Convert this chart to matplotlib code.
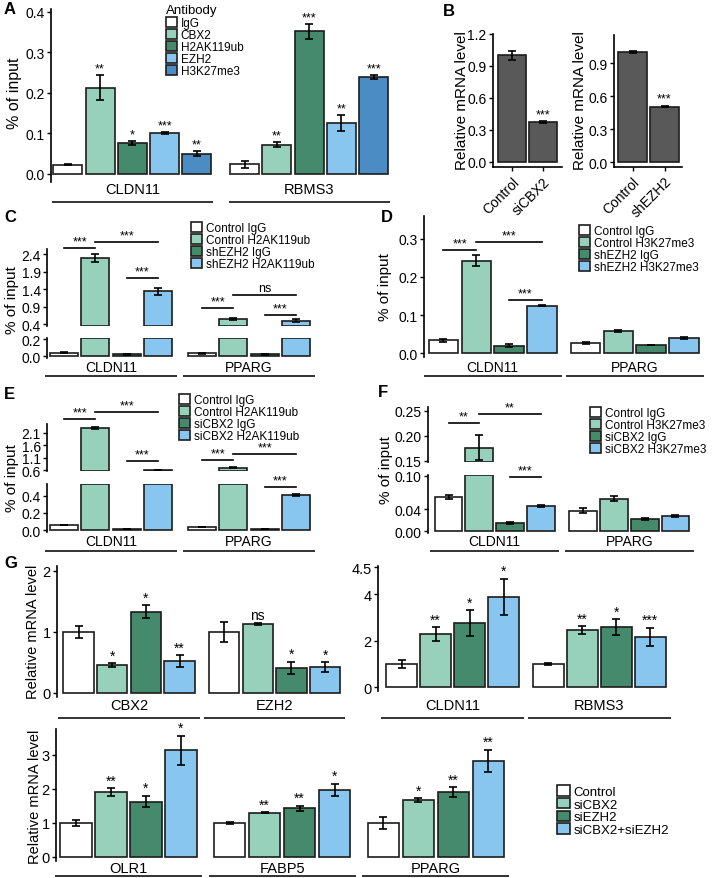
import numpy as np
import matplotlib.pyplot as plt
from matplotlib.patches import Patch
from matplotlib.transforms import blended_transform_factory

plt.rcParams['font.family'] = ['Liberation Sans', 'DejaVu Sans']
NARROW = ['Liberation Sans Narrow', 'Liberation Sans', 'DejaVu Sans']

W, H = 724, 879

WHITE = '#ffffff'
LGREEN = '#97d1bb'
DGREEN = '#468a6e'
LBLUE = '#88c5ef'
MBLUE = '#4b8cc4'
GREY = '#595959'
EDGE = '#1c1c1c'

# ---- panel A: ChIP at CLDN11 / RBMS3 ----
a_genes = ['CLDN11', 'RBMS3']
a_antibodies = ['IgG', 'CBX2', 'H2AK119ub', 'EZH2', 'H3K27me3']
a_vals = [[0.023, 0.213, 0.076, 0.101, 0.050],
          [0.024, 0.072, 0.352, 0.125, 0.239]]
a_errs = [[0.002, 0.031, 0.004, 0.002, 0.006],
          [0.009, 0.006, 0.018, 0.020, 0.004]]
a_sig = [['', '**', '*', '***', '**'],
         ['', '**', '***', '**', '***']]

# ---- panel B: knockdown efficiency ----
b1_groups = ['Control', 'siCBX2']
b1_vals = [1.0, 0.375]
b1_errs = [0.04, 0.01]
b2_groups = ['Control', 'shEZH2']
b2_vals = [1.0, 0.505]
b2_errs = [0.012, 0.008]
b_sig = ['', '***']

# ---- panel C ----
c_genes = ['CLDN11', 'PPARG']
c_labels = ['Control IgG', 'Control H2AK119ub', 'shEZH2 IgG', 'shEZH2 H2AK119ub']
c_vals = [[0.04, 2.28, 0.02, 1.33], [0.03, 0.55, 0.02, 0.50]]
c_errs = [[0.005, 0.12, 0.003, 0.09], [0.003, 0.03, 0.003, 0.03]]
c_brackets = [(0, 0, 1, 2.57, '***'), (0, 1, 3, 2.74, '***'), (0, 2, 3, 1.71, '***'),
              (1, 0, 1, 0.86, '***'), (1, 1, 3, 1.23, 'ns'), (1, 2, 3, 0.66, '***')]

# ---- panel D ----
d_genes = ['CLDN11', 'PPARG']
d_labels = ['Control IgG', 'Control H3K27me3', 'shEZH2 IgG', 'shEZH2 H3K27me3']
d_vals = [[0.033, 0.243, 0.019, 0.125], [0.026, 0.058, 0.021, 0.039]]
d_errs = [[0.005, 0.014, 0.004, 0.002], [0.002, 0.003, 0.001, 0.002]]
d_brackets = [(0, 0, 1, 0.271, '***'), (0, 1, 3, 0.292, '***'), (0, 2, 3, 0.139, '***')]

# ---- panel E ----
e_genes = ['CLDN11', 'PPARG']
e_labels = ['Control IgG', 'Control H2AK119ub', 'siCBX2 IgG', 'siCBX2 H2AK119ub']
e_vals = [[0.06, 2.29, 0.01, 0.61], [0.035, 0.70, 0.015, 0.41]]
e_errs = [[0.003, 0.04, 0.002, 0.01], [0.003, 0.02, 0.002, 0.01]]
e_brackets = [(0, 0, 1, 2.67, '***'), (0, 1, 3, 2.95, '***'), (0, 2, 3, 0.97, '***'),
              (1, 0, 1, 1.01, '***'), (1, 1, 3, 1.25, '***'), (1, 2, 3, 0.51, '***')]

# ---- panel F ----
f_genes = ['CLDN11', 'PPARG']
f_labels = ['Control IgG', 'Control H3K27me3', 'siCBX2 IgG', 'siCBX2 H3K27me3']
f_vals = [[0.062, 0.177, 0.014, 0.046], [0.037, 0.059, 0.022, 0.027]]
f_errs = [[0.003, 0.025, 0.002, 0.002], [0.004, 0.004, 0.002, 0.002]]
f_brackets = [(0, 0, 1, 0.226, '**'), (0, 1, 3, 0.244, '**'), (0, 2, 3, 0.098, '***')]

# ---- panel G ----
g_labels = ['Control', 'siCBX2', 'siEZH2', 'siCBX2+siEZH2']
g1_genes = ['CBX2', 'EZH2']
g1_vals = [[1.0, 0.46, 1.33, 0.52], [1.0, 1.13, 0.41, 0.42]]
g1_errs = [[0.10, 0.03, 0.11, 0.10], [0.17, 0.02, 0.10, 0.08]]
g1_sig = [['', '*', '*', '**'], ['', 'ns', '*', '*']]
g2_genes = ['CLDN11', 'RBMS3']
g2_vals = [[1.0, 2.27, 2.75, 3.87], [1.0, 2.45, 2.58, 2.15]]
g2_err_lo = [[0.18, 0.30, 0.56, 0.77], [0.04, 0.17, 0.34, 0.40]]
g2_err_hi = [[0.18, 0.30, 0.56, 0.41], [0.04, 0.17, 0.34, 0.40]]
g2_sig = [['', '**', '*', '*'], ['', '**', '*', '***']]
g3_genes = ['OLR1', 'FABP5', 'PPARG']
g3_vals = [[1.0, 1.90, 1.63, 3.13], [1.0, 1.30, 1.43, 1.97], [1.0, 1.67, 1.90, 2.83]]
g3_errs = [[0.08, 0.12, 0.17, 0.43], [0.02, 0.02, 0.07, 0.18], [0.18, 0.05, 0.15, 0.32]]
g3_sig = [['', '**', '*', '*'], ['', '**', '**', '*'], ['', '*', '**', '**']]

chip4 = [WHITE, LGREEN, DGREEN, LBLUE]

fig = plt.figure(figsize=(W / 100, H / 100), dpi=100)


def fxy(x, y):
    return x / W, 1 - y / H


def px_axes(x0, y0, x1, y1):
    ax = fig.add_axes([x0 / W, 1 - y1 / H, (x1 - x0) / W, (y1 - y0) / H])
    ax.patch.set_visible(False)
    return ax


def style_axis(ax, yticks, ylabels, size=10, family=None):
    for s in ['top', 'right', 'bottom']:
        ax.spines[s].set_visible(False)
    ax.spines['left'].set_linewidth(1.2)
    ax.set_xticks([])
    ax.set_yticks(yticks)
    ax.set_yticklabels(ylabels, fontsize=size, family=family)
    ax.tick_params(axis='y', length=3, width=1, pad=1.5)


def xpos(g, n, gap):
    return g * (n + gap) + np.arange(n)


def bar_groups(ax, vals, colors, gap, ylim, err_lo, err_hi=None, sig=None,
               sig_size=9, family=None):
    n = len(colors)
    lo, hi = ylim
    if err_hi is None:
        err_hi = err_lo
    for g in range(len(vals)):
        xs = xpos(g, n, gap)
        v = np.asarray(vals[g], float)
        keep = v > lo
        base = max(0, lo)
        ax.bar(xs[keep], np.minimum(v, hi)[keep] - base, bottom=base, width=0.9,
               color=np.array(colors)[keep], edgecolor=EDGE, linewidth=1.2, zorder=2)
        yerr = np.vstack([err_lo[g], err_hi[g]])
        ax.errorbar(xs, v, yerr=yerr, fmt='none', ecolor='black', elinewidth=1.2,
                    capsize=3, capthick=1.2, zorder=3)
        if sig:
            for x, val, eh, s in zip(xs, v, err_hi[g], sig[g]):
                if s and lo < val + eh <= hi * 1.2:
                    ax.annotate(s, (x, val + eh), xytext=(0, 0.5), textcoords='offset points',
                                ha='center', va='bottom', fontsize=sig_size, family=family)
    ax.set_ylim(lo, hi)


def set_xlim_px(ax, x0, x1, c0, step):
    ax.set_xlim((x0 - c0) / step, (x1 - c0) / step)


def gene_labels(ax, genes, n, gap, y_text, y_line, size, pad=0.6, family=None):
    tr = blended_transform_factory(ax.transData, fig.transFigure)
    for g, gene in enumerate(genes):
        xs = xpos(g, n, gap)
        ax.plot([xs[0] - pad, xs[-1] + pad], [1 - y_line / H] * 2, transform=tr,
                color='#222222', lw=1.3, clip_on=False, solid_capstyle='butt')
        ax.text(xs.mean(), 1 - y_text / H, gene, transform=tr, ha='center',
                va='center', fontsize=size, family=family)


def brackets(ax_top, ax_bot, items, n, gap, size=9):
    for g, i, j, y, label in items:
        ax = ax_top
        if ax_bot is not None and y < ax_top.get_ylim()[0]:
            ax = ax_bot
        x1 = g * (n + gap) + i
        x2 = g * (n + gap) + j
        ax.plot([x1, x2], [y, y], color='black', lw=1.2, clip_on=False)
        ax.annotate(label, ((x1 + x2) / 2, y), xytext=(0, 0.5), textcoords='offset points',
                    ha='center', va='bottom', fontsize=size, annotation_clip=False)


def legend_at(x, y, labels, colors, size=8.5, spacing=0.0, keyh=0.85, family=None):
    handles = [Patch(facecolor=c, edgecolor=EDGE, linewidth=1.2) for c in colors]
    prop = {'size': size}
    if family:
        prop['family'] = family
    fig.legend(handles, labels, loc='upper left', bbox_to_anchor=fxy(x, y),
               frameon=False, prop=prop, handlelength=0.95, handleheight=keyh,
               handletextpad=0.3, labelspacing=spacing, borderpad=0, borderaxespad=0)


def panel_letter(x, y, s):
    fig.text(*fxy(x, y), s, fontsize=12, fontweight='bold', ha='left', va='center')


def ylab(x, y, s, size=11, family=None):
    fig.text(*fxy(x, y), s, rotation=90, ha='center', va='center', fontsize=size, family=family)


# ---------------- A ----------------
axA = px_axes(51, 10, 392, 183)
bar_groups(axA, a_vals, [WHITE, LGREEN, DGREEN, LBLUE, MBLUE], 0.485, (-0.02, 0.407),
           a_errs, sig=a_sig)
set_xlim_px(axA, 51, 392, 67.8, 32.25)
style_axis(axA, [0, 0.1, 0.2, 0.3, 0.4], ['0.0', '0.1', '0.2', '0.3', '0.4'])
gene_labels(axA, a_genes, 5, 0.485, 190, 203, 10.5, pad=0.5)
ylab(14, 93, '% of input', size=11.5)
fig.text(*fxy(166, 11), 'Antibody', fontsize=9.5, ha='left', va='center')
legend_at(166, 18, a_antibodies, [WHITE, LGREEN, DGREEN, LBLUE, MBLUE], size=8.5,
          spacing=0.0, keyh=0.85)
panel_letter(4, 10, 'A')

# ---------------- B ----------------
for (x0, x1, c0, step, top, ylim, ticks, groups, vals, errs, ylx) in [
        (493, 562, 512, 31, 35, (-0.047, 1.2), [0, 0.3, 0.6, 0.9, 1.2], b1_groups, b1_vals, b1_errs, 462),
        (614, 682, 632.5, 32, 36, (-0.045, 1.155), [0, 0.3, 0.6, 0.9], b2_groups, b2_vals, b2_errs, 580)]:
    ax = px_axes(x0, top, x1, 168)
    bar_groups(ax, [vals], [GREY, GREY], 0, ylim, [errs], sig=[b_sig])
    set_xlim_px(ax, x0, x1, c0, step)
    style_axis(ax, ticks, ['%.1f' % t for t in ticks])
    ax.spines['bottom'].set_visible(True)
    ax.spines['bottom'].set_linewidth(1.2)
    ax.set_xticks([0, 1])
    ax.set_xticklabels(groups, rotation=45, ha='right', rotation_mode='anchor', fontsize=10)
    ax.tick_params(axis='x', length=3, width=1, pad=2)
    ylab(ylx, 101, 'Relative mRNA level')
panel_letter(443, 12, 'B')

# ---------------- C ----------------
axC1 = px_axes(47, 250, 315, 327)
axC2 = px_axes(47, 339, 315, 359)
for ax, yl in [(axC1, (0.343, 2.543)), (axC2, (-0.0235, 0.212))]:
    bar_groups(ax, c_vals, chip4, 0.41, yl, c_errs)
    set_xlim_px(ax, 47, 315, 64, 31.3)
style_axis(axC1, [0.4, 0.9, 1.4, 1.9, 2.4], ['0.4', '0.9', '1.4', '1.9', '2.4'])
style_axis(axC2, [0, 0.2], ['0.0', '0.2'])
brackets(axC1, axC2, c_brackets, 4, 0.41)
gene_labels(axC2, c_genes, 4, 0.41, 368, 377, 10)
ylab(12, 300, '% of input')
legend_at(191, 223, c_labels, chip4)
panel_letter(4, 218, 'C')

# ---------------- D ----------------
axD = px_axes(424, 217, 703, 358)
bar_groups(axD, d_vals, chip4, 0.33, (-0.0105, 0.3605), d_errs)
set_xlim_px(axD, 424, 703, 443.5, 32.8)
style_axis(axD, [0, 0.1, 0.2, 0.3], ['0.0', '0.1', '0.2', '0.3'])
brackets(axD, None, d_brackets, 4, 0.33)
gene_labels(axD, d_genes, 4, 0.33, 368, 377, 10)
ylab(385, 287, '% of input')
legend_at(579, 226, d_labels, chip4)
panel_letter(381, 218, 'D')

# ---------------- E ----------------
axE1 = px_axes(47, 425, 315, 472)
axE2 = px_axes(47, 485, 315, 533)
for ax, yl in [(axE1, (0.56, 2.46)), (axE2, (-0.0235, 0.541))]:
    bar_groups(ax, e_vals, chip4, 0.41, yl, e_errs)
    set_xlim_px(ax, 47, 315, 64, 31.3)
style_axis(axE1, [0.6, 1.1, 1.6, 2.1], ['0.6', '1.1', '1.6', '2.1'])
style_axis(axE2, [0, 0.2, 0.4], ['0.0', '0.2', '0.4'])
brackets(axE1, axE2, e_brackets, 4, 0.41)
gene_labels(axE2, e_genes, 4, 0.41, 542, 552, 10)
ylab(12, 478, '% of input')
legend_at(179, 395, e_labels, chip4)
panel_letter(4, 395, 'E')

# ---------------- F ----------------
axF1 = px_axes(428, 408, 694, 463)
axF2 = px_axes(428, 476, 694, 534)
for ax, yl in [(axF1, (0.148, 0.258)), (axF2, (-0.0036, 0.1018))]:
    bar_groups(ax, f_vals, chip4, 0.37, yl, f_errs)
    set_xlim_px(ax, 428, 694, 448.5, 30.8)
style_axis(axF1, [0.15, 0.20, 0.25], ['0.15', '0.20', '0.25'])
style_axis(axF2, [0, 0.04, 0.10], ['0.00', '0.04', '0.10'])
brackets(axF1, axF2, f_brackets, 4, 0.37)
gene_labels(axF2, f_genes, 4, 0.37, 542, 552, 10)
ylab(386, 470, '% of input')
legend_at(590, 408, f_labels, chip4)
panel_letter(378, 393, 'F')

# ---------------- G ----------------
axG1 = px_axes(57, 567, 345, 698)
bar_groups(axG1, g1_vals, chip4, 0.32, (-0.066, 2.08), g1_errs, sig=g1_sig,
           sig_size=10, family=NARROW)
set_xlim_px(axG1, 57, 345, 78.5, 33.7)
style_axis(axG1, [0, 1, 2], ['0', '1', '2'], size=10.5, family=NARROW)
gene_labels(axG1, g1_genes, 4, 0.32, 706, 719, 10.5, family=NARROW)
ylab(33, 632, 'Relative mRNA level', size=10.5)


def seg_fwd(y):
    y = np.asarray(y, float)
    return np.where(y <= 4, y, 4 + (y - 4) * 2.32)


def seg_inv(y):
    y = np.asarray(y, float)
    return np.where(y <= 4, y, 4 + (y - 4) / 2.32)


axG2 = px_axes(378, 567, 670, 692)
axG2.set_yscale('function', functions=(seg_fwd, seg_inv))
bar_groups(axG2, g2_vals, chip4, 0.32, (-0.17, 4.52), g2_err_lo, g2_err_hi, sig=g2_sig,
           sig_size=10, family=NARROW)
set_xlim_px(axG2, 378, 670, 401.5, 34)
style_axis(axG2, [0, 2, 4, 4.5], ['0', '2', '4', '4.5'], size=10.5, family=NARROW)
gene_labels(axG2, g2_genes, 4, 0.32, 706, 719, 10.5, family=NARROW)

axG3 = px_axes(56, 730, 507, 862)
bar_groups(axG3, g3_vals, chip4, 0.39, (-0.118, 3.76), g3_errs, sig=g3_sig,
           sig_size=10, family=NARROW)
set_xlim_px(axG3, 56, 507, 76, 35)
style_axis(axG3, [0, 1, 2, 3], ['0', '1', '2', '3'], size=10.5, family=NARROW)
gene_labels(axG3, g3_genes, 4, 0.39, 869, 877, 10.5, family=NARROW)
ylab(35, 797, 'Relative mRNA level', size=10.5)
legend_at(557, 786, g_labels, chip4, size=9.5, spacing=0.0, keyh=0.85, family=NARROW)
panel_letter(4, 563, 'G')

fig.savefig('out.png', dpi=100)
